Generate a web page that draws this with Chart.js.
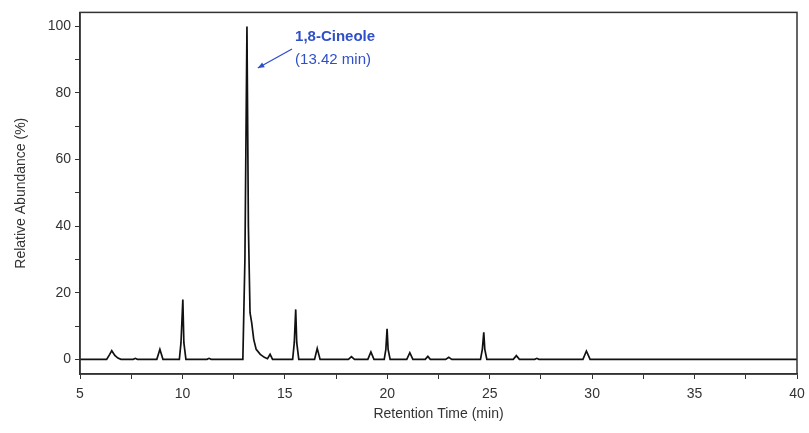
<!DOCTYPE html>
<html>
<head>
<meta charset="utf-8">
<script src="https://cdn.jsdelivr.net/npm/chart.js@4"></script>
<style>
  html, body { margin: 0; padding: 0; background: #fff; }
  #wrap { width: 809px; height: 433px; }
</style>
</head>
<body>
<div id="wrap"><canvas id="chart"></canvas></div>
<script>
// chromatogram points (min, %)
const retentionTime = [5, 6.3, 6.45, 6.55, 6.7, 6.85, 7.0, 7.6, 7.7, 7.8, 8.75, 8.9, 9.05,
  9.85, 9.93, 10.02, 10.07, 10.17, 11.2, 11.3, 11.4,
  12.95, 13.05, 13.15, 13.22, 13.3, 13.38, 13.48, 13.6, 13.8, 14.0, 14.15, 14.28, 14.4,
  15.38, 15.46, 15.53, 15.58, 15.68, 16.45, 16.58, 16.72, 18.1, 18.25, 18.4,
  19.05, 19.2, 19.35, 19.85, 19.93, 19.99, 20.04, 20.14, 20.95, 21.1, 21.25,
  21.85, 21.98, 22.1, 22.85, 23.0, 23.15, 24.55, 24.64, 24.71, 24.76, 24.86,
  26.15, 26.3, 26.45, 27.2, 27.3, 27.4, 29.55, 29.72, 29.9, 40];
const abundance = [0, 0, 1.5, 2.6, 1.2, 0.4, 0, 0, 0.3, 0, 0, 3.0, 0,
  0, 5, 18, 5, 0, 0, 0.3, 0,
  0, 30, 100, 40, 14, 11, 6, 3, 1.5, 0.6, 0.2, 1.5, 0,
  0, 5, 15, 5, 0, 0, 3.3, 0, 0, 0.8, 0,
  0, 2.2, 0, 0, 3, 9.2, 3, 0, 0, 2.0, 0,
  0, 0.9, 0, 0, 0.6, 0, 0, 3, 8.1, 3, 0,
  0, 1.1, 0, 0, 0.3, 0, 0, 2.5, 0, 0];

const xTicks = [5, 7.5, 10, 12.5, 15, 17.5, 20, 22.5, 25, 27.5, 30, 32.5, 35, 37.5, 40];
const yTicks = [0, 10, 20, 30, 40, 50, 60, 70, 80, 90, 100];
const xLabels = [5, 10, 15, 20, 25, 30, 35, 40];
const yLabels = [0, 20, 40, 60, 80, 100];

const peakName = "1,8-Cineole";
const peakTime = "(13.42 min)";

const ink = "#333";
const blue = "#2f4fc8";

const boxPlugin = {
  id: "box",
  afterDraw(chart) {
    const { ctx, chartArea: a, scales } = chart;
    ctx.save();
    ctx.strokeStyle = ink;
    ctx.lineWidth = 1.5;
    ctx.strokeRect(a.left, a.top, a.right - a.left, a.bottom - a.top);

    // annotation arrow + label
    const x = scales.x, y = scales.y;
    const tx = x.getPixelForValue(13.68), ty = y.getPixelForValue(87.5);
    const fx = x.getPixelForValue(15.35), fy = y.getPixelForValue(93.2);
    ctx.strokeStyle = blue;
    ctx.fillStyle = blue;
    ctx.lineWidth = 1.3;
    ctx.beginPath();
    ctx.moveTo(fx, fy);
    ctx.lineTo(tx, ty);
    ctx.stroke();
    const ang = Math.atan2(ty - fy, tx - fx);
    ctx.beginPath();
    ctx.moveTo(tx, ty);
    ctx.lineTo(tx - 7 * Math.cos(ang - 0.4), ty - 7 * Math.sin(ang - 0.4));
    ctx.lineTo(tx - 7 * Math.cos(ang + 0.4), ty - 7 * Math.sin(ang + 0.4));
    ctx.closePath();
    ctx.fill();

    ctx.textBaseline = "middle";
    ctx.textAlign = "left";
    ctx.font = "bold 15px 'Liberation Sans', Arial, sans-serif";
    ctx.fillText(peakName, x.getPixelForValue(15.5), y.getPixelForValue(96.8));
    ctx.font = "15px 'Liberation Sans', Arial, sans-serif";
    ctx.fillText(peakTime, x.getPixelForValue(15.5), y.getPixelForValue(90));
    ctx.restore();
  }
};

new Chart(document.getElementById("chart"), {
  type: "line",
  data: {
    datasets: [{
      data: retentionTime.map((t, i) => ({ x: t, y: abundance[i] })),
      borderColor: "#111",
      borderWidth: 1.7,
      pointRadius: 0,
      tension: 0,
      fill: false
    }]
  },
  options: {
    responsive: true,
    maintainAspectRatio: false,
    animation: false,
    layout: { padding: { top: 8, right: 12, bottom: 0, left: 0 } },
    plugins: { legend: { display: false }, tooltip: { enabled: false } },
    scales: {
      x: {
        type: "linear",
        min: 5, max: 40,
        afterBuildTicks: s => { s.ticks = xTicks.map(v => ({ value: v })); },
        afterFit: s => { s.height = 59; s.paddingRight = 0; s.paddingLeft = 0; },
        grid: { drawOnChartArea: false, drawTicks: true, tickLength: 5, color: ink, lineWidth: 1 },
        border: { display: true, color: ink, width: 1.5 },
        ticks: {
          autoSkip: false, maxRotation: 0, padding: 7,
          color: "#333", font: { family: "'Liberation Sans', Arial", size: 14 },
          callback: v => xLabels.includes(v) ? String(v) : ""
        },
        title: {
          display: true, text: "Retention Time (min)", color: "#333",
          font: { family: "'Liberation Sans', Arial", size: 14 }, padding: { top: 2, bottom: 10 }
        }
      },
      y: {
        min: -4.4, max: 104.2,
        afterBuildTicks: s => { s.ticks = yTicks.map(v => ({ value: v })); },
        afterFit: s => { s.width = 80; },
        grid: { drawOnChartArea: false, drawTicks: true, tickLength: 5, color: ink, lineWidth: 1 },
        border: { display: true, color: ink, width: 1.5 },
        ticks: {
          autoSkip: false, padding: 4,
          color: "#333", font: { family: "'Liberation Sans', Arial", size: 14 },
          callback: v => yLabels.includes(v) ? String(v) : ""
        },
        title: {
          display: true, text: "Relative Abundance (%)", color: "#333",
          font: { family: "'Liberation Sans', Arial", size: 14 }, padding: { top: 13, bottom: 8 }
        }
      }
    }
  },
  plugins: [boxPlugin]
});
</script>
</body>
</html>
